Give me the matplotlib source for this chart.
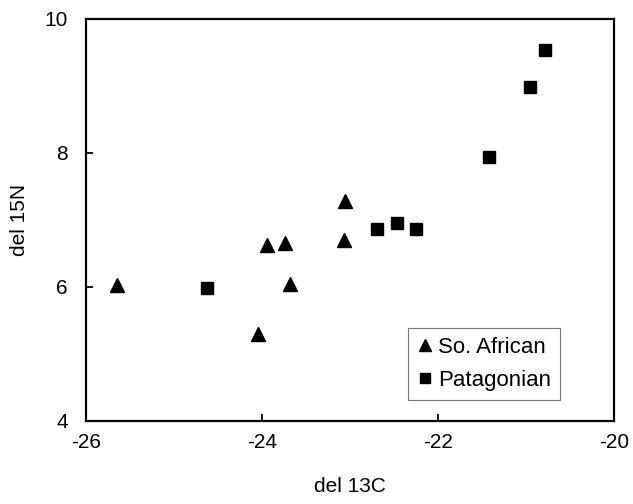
import matplotlib
matplotlib.use("Agg")
import matplotlib.pyplot as plt

plt.rcParams['font.family'] = ['Liberation Sans', 'DejaVu Sans']

# So. African (triangles)
africa_x = [-25.65, -24.05, -23.94, -23.74, -23.68, -23.07, -23.06]
africa_y = [6.03, 5.30, 6.62, 6.66, 6.04, 6.70, 7.28]

# Patagonian (squares)
patag_x = [-24.63, -22.69, -22.47, -22.25, -21.42, -20.95, -20.78]
patag_y = [5.98, 6.86, 6.95, 6.86, 7.93, 8.98, 9.53]

xticks = [-26, -24, -22, -20]
yticks = [4, 6, 8, 10]

fig = plt.figure(figsize=(6.33, 5.04), dpi=100)
ax = fig.add_axes([0.1359, 0.1647, 0.8341, 0.7983])

ax.plot(africa_x, africa_y, linestyle='none', marker='^', color='black',
        markersize=10, label='So. African')
ax.plot(patag_x, patag_y, linestyle='none', marker='s', color='black',
        markersize=8.5, label='Patagonian')

ax.set_xlim(-26, -20)
ax.set_ylim(4, 10)
ax.set_xticks(xticks)
ax.set_yticks(yticks)
ax.set_xticklabels([str(t) for t in xticks])
ax.set_yticklabels([str(t) for t in yticks])
ax.tick_params(direction='in', length=5, width=1.3, labelsize=15)
ax.tick_params(axis='x', pad=9)
ax.tick_params(axis='y', pad=13)
for s in ax.spines.values():
    s.set_linewidth(1.6)

ax.set_xlabel('del 13C', fontsize=15, labelpad=18)
ax.set_ylabel('del 15N', fontsize=15, labelpad=11)

leg = ax.legend(loc='lower right', bbox_to_anchor=(0.898, 0.052), fontsize=16,
                frameon=True, fancybox=False, handlelength=0.7,
                handletextpad=0.25, borderpad=0.4, labelspacing=0.55,
                borderaxespad=0, markerscale=0.9)
leg.get_frame().set_edgecolor('#555555')
leg.get_frame().set_linewidth(0.8)

fig.savefig('out.png', dpi=100)
